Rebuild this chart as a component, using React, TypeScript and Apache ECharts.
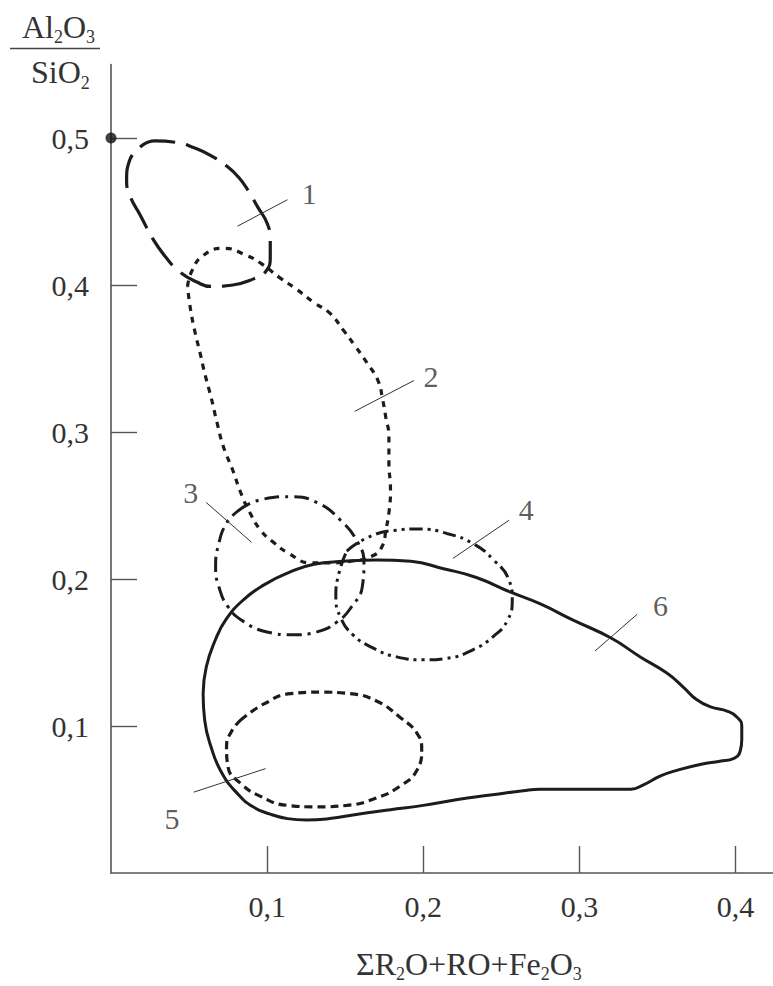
import React, { useEffect, useRef } from "react";
import * as echarts from "echarts";

const FONT = '"Liberation Serif", "Times New Roman", serif';

const xTicks = [0.1, 0.2, 0.3, 0.4];
const yTicks = [0.1, 0.2, 0.3, 0.4, 0.5];

// formula pieces: [text, isSubscript]
const yNameTop: [string, boolean][] = [["Al", false], ["2", true], ["O", false], ["3", true]];
const yNameBottom: [string, boolean][] = [["SiO", false], ["2", true]];
const xName: [string, boolean][] = [["ΣR", false], ["2", true], ["O+RO+Fe", false], ["2", true], ["O", false], ["3", true]];

const curve1 = [
  [0.020, 0.495], [0.028, 0.498], [0.042, 0.497], [0.054, 0.493], [0.064, 0.488], [0.074, 0.481],
  [0.082, 0.473], [0.088, 0.464], [0.094, 0.453], [0.100, 0.442], [0.102, 0.431], [0.102, 0.419],
  [0.099, 0.409], [0.091, 0.404], [0.078, 0.400], [0.064, 0.399], [0.055, 0.402], [0.044, 0.409],
  [0.035, 0.419], [0.027, 0.431], [0.019, 0.447], [0.012, 0.461], [0.010, 0.471], [0.012, 0.485],
  [0.020, 0.495],
];

const curve2 = [
  [0.049, 0.399], [0.052, 0.410], [0.059, 0.420], [0.072, 0.425], [0.087, 0.420], [0.097, 0.414],
  [0.108, 0.405], [0.119, 0.397], [0.130, 0.388], [0.140, 0.381], [0.149, 0.369], [0.156, 0.359],
  [0.164, 0.347], [0.171, 0.335], [0.174, 0.322], [0.176, 0.310], [0.178, 0.297], [0.178, 0.279],
  [0.179, 0.261], [0.178, 0.245], [0.176, 0.233], [0.174, 0.223], [0.168, 0.216], [0.153, 0.212],
  [0.140, 0.211], [0.128, 0.211], [0.113, 0.218], [0.104, 0.225], [0.096, 0.233], [0.089, 0.245],
  [0.083, 0.259], [0.078, 0.274], [0.072, 0.290], [0.068, 0.306], [0.064, 0.324], [0.060, 0.340],
  [0.057, 0.354], [0.054, 0.367], [0.051, 0.383], [0.049, 0.399],
];

const curve3 = [
  [0.081, 0.246], [0.096, 0.254], [0.115, 0.256], [0.132, 0.252], [0.147, 0.240], [0.158, 0.225],
  [0.162, 0.211], [0.161, 0.195], [0.154, 0.181], [0.145, 0.171], [0.132, 0.164], [0.117, 0.162],
  [0.100, 0.164], [0.085, 0.171], [0.075, 0.181], [0.069, 0.195], [0.067, 0.208], [0.069, 0.224],
  [0.074, 0.238], [0.081, 0.246],
];

const curve4 = [
  [0.151, 0.219], [0.164, 0.228], [0.181, 0.233], [0.198, 0.234], [0.215, 0.231], [0.232, 0.224],
  [0.245, 0.213], [0.255, 0.199], [0.257, 0.186], [0.254, 0.172], [0.245, 0.161], [0.232, 0.152],
  [0.215, 0.146], [0.200, 0.145], [0.183, 0.147], [0.168, 0.153], [0.155, 0.162], [0.147, 0.174],
  [0.144, 0.188], [0.146, 0.204], [0.151, 0.219],
];

const curve5 = [
  [0.083, 0.104], [0.098, 0.115], [0.115, 0.122], [0.134, 0.123], [0.153, 0.122], [0.170, 0.117],
  [0.185, 0.106], [0.196, 0.095], [0.199, 0.084], [0.196, 0.070], [0.185, 0.059], [0.170, 0.051],
  [0.151, 0.046], [0.132, 0.045], [0.113, 0.046], [0.096, 0.052], [0.083, 0.061], [0.075, 0.072],
  [0.074, 0.086], [0.077, 0.096], [0.083, 0.104],
];

const curve6 = [
  [0.059, 0.122], [0.061, 0.140], [0.067, 0.159], [0.074, 0.173], [0.085, 0.186], [0.098, 0.196],
  [0.113, 0.204], [0.130, 0.210], [0.149, 0.212], [0.170, 0.213], [0.192, 0.212], [0.213, 0.207],
  [0.234, 0.201], [0.256, 0.191], [0.275, 0.183], [0.296, 0.172], [0.320, 0.160], [0.339, 0.147],
  [0.356, 0.136], [0.367, 0.126], [0.375, 0.118], [0.384, 0.113], [0.395, 0.110], [0.401, 0.106],
  [0.404, 0.100], [0.404, 0.091], [0.403, 0.083], [0.399, 0.078], [0.390, 0.076], [0.378, 0.074],
  [0.363, 0.070], [0.352, 0.066], [0.341, 0.060], [0.333, 0.057], [0.318, 0.057], [0.296, 0.057],
  [0.275, 0.057], [0.264, 0.056], [0.243, 0.053], [0.222, 0.050], [0.200, 0.046], [0.179, 0.043],
  [0.158, 0.040], [0.140, 0.037], [0.125, 0.036], [0.113, 0.037], [0.102, 0.040], [0.091, 0.045],
  [0.081, 0.054], [0.071, 0.068], [0.064, 0.086], [0.060, 0.104], [0.059, 0.122],
];

const originPoint = [[0, 0.5]];

const leaderLines = [
  [[0.081, 0.440], [0.113, 0.458]],
  [[0.156, 0.314], [0.194, 0.335]],
  [[0.061, 0.252], [0.090, 0.225]],
  [[0.219, 0.214], [0.255, 0.240]],
  [[0.053, 0.055], [0.099, 0.071]],
  [[0.310, 0.151], [0.337, 0.176]],
];

const curveNames = ["1", "2", "3", "4", "5", "6"];
const namePositions = [
  [0.127, 0.462],
  [0.205, 0.338],
  [0.051, 0.259],
  [0.266, 0.247],
  [0.039, 0.037],
  [0.352, 0.182],
];

const fmt = (v: number) => v.toFixed(1).replace(".", ",");

let measureCtx: CanvasRenderingContext2D | null = null;
function textWidth(t: string, size: number) {
  if (!measureCtx) measureCtx = document.createElement("canvas").getContext("2d");
  if (!measureCtx) return t.length * size * 0.55;
  measureCtx.font = `${size}px "Liberation Serif"`;
  return measureCtx.measureText(t).width;
}

// build text elements of a formula with subscripts; x = left start, baseline = y of main baseline
function formula(pieces: [string, boolean][], x: number, baseline: number, mainSize: number, subSize: number, subDrop: number) {
  const els: any[] = [];
  let cx = x;
  pieces.forEach(([t, isSub]) => {
    const size = isSub ? subSize : mainSize;
    const base = isSub ? baseline + subDrop : baseline;
    els.push({
      type: "text",
      x: cx,
      y: base - 0.3375 * size,
      style: { text: t, fontFamily: FONT, fontSize: size, fill: "#333", align: "left", verticalAlign: "middle" },
    });
    cx += textWidth(t, size);
  });
  return els;
}

export default function App() {
  const ref = useRef<HTMLDivElement>(null);

  useEffect(() => {
    if (!ref.current) return;
    const chart = echarts.init(ref.current, undefined, { renderer: "svg" });
    const ink = "#1c1c1c";
    const curveSeries = (data: number[][], width: number, type: any, z = 3) => ({
      type: "line",
      data,
      symbol: "none",
      showSymbol: false,
      smooth: 0.5,
      clip: false,
      z,
      lineStyle: { color: ink, width, type, cap: "butt" },
    });

    chart.setOption({
      animation: false,
      backgroundColor: "#ffffff",
      grid: { left: 111, right: 0, top: 64.5, bottom: 113, containLabel: false, outerBoundsMode: "none" },
      xAxis: {
        type: "value",
        min: 0,
        max: 0.424,
        interval: 0.1,
        axisLine: { show: true, onZero: false, lineStyle: { color: "#555", width: 1.6 } },
        axisTick: { show: true, inside: true, length: 27, customValues: xTicks, lineStyle: { color: "#555", width: 1.4 } },
        axisLabel: { customValues: xTicks, formatter: fmt, margin: 18, fontFamily: FONT, fontSize: 30, color: "#333" },
        splitLine: { show: false },
      },
      yAxis: {
        type: "value",
        min: 0,
        max: 0.55,
        interval: 0.1,
        axisLine: { show: true, onZero: false, lineStyle: { color: "#555", width: 1.6 } },
        axisTick: { show: true, inside: true, length: 26, customValues: yTicks, lineStyle: { color: "#555", width: 1.4 } },
        axisLabel: { customValues: yTicks, formatter: fmt, margin: 22, fontFamily: FONT, fontSize: 30, color: "#333" },
        splitLine: { show: false },
      },
      graphic: [
        ...formula(yNameTop, 22, 37.5, 32, 18, 6),
        {
          type: "line",
          shape: { x1: 10, y1: 48.5, x2: 100, y2: 48.5 },
          style: { stroke: "#444", lineWidth: 1.5 },
        },
        ...formula(yNameBottom, 31, 83, 32, 18, 6),
        ...formula(xName, 356, 975, 32, 18, 5),
      ],
      series: [
        curveSeries(curve6, 3, "solid", 3),
        curveSeries(curve1, 3.2, [34, 11], 4),
        curveSeries(curve2, 3.2, [6, 6], 4),
        curveSeries(curve3, 3, [15, 6, 3, 6], 4),
        curveSeries(curve4, 3, [13, 5, 3, 5, 3, 5], 4),
        curveSeries(curve5, 3.2, [8, 5], 4),
        ...leaderLines.map((seg) => ({
          type: "line",
          data: seg,
          symbol: "none",
          smooth: false,
          clip: false,
          z: 5,
          lineStyle: { color: "#333", width: 1 },
        })),
        {
          type: "scatter",
          data: namePositions.map((p, i) => [p[0], p[1], curveNames[i]]),
          symbolSize: 0,
          clip: false,
          z: 6,
          label: {
            show: true,
            position: "inside",
            formatter: (p: any) => p.value[2],
            fontFamily: FONT,
            fontSize: 30,
            color: "#333",
          },
        },
        {
          type: "scatter",
          data: originPoint,
          symbol: "circle",
          symbolSize: 11,
          clip: false,
          z: 7,
          itemStyle: { color: "#111" },
        },
      ],
    });
    return () => chart.dispose();
  }, []);

  return (
    <div
      ref={ref}
      style={{ position: "fixed", left: 0, top: 0, width: 773, height: 986, background: "#fff" }}
    />
  );
}
